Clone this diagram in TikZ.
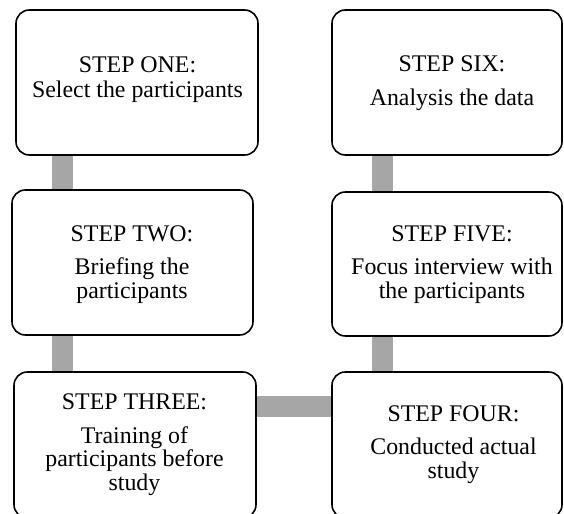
\documentclass[tikz,border=0pt]{standalone}
\usepackage{fontspec}
\setmainfont{Liberation Serif}
\usetikzlibrary{fit,backgrounds}
\definecolor{conngray}{HTML}{A6A6A6}
\tikzset{
  stepbox/.style={draw=black, line width=1.2pt, rounded corners=10pt, fill=white, inner sep=0pt},
  steptext/.style={anchor=base, align=center, inner sep=0pt,
    font=\fontsize{17.9pt}{17.6pt}\selectfont},
  conn/.style={draw=conngray, line width=15.75pt}
}
\begin{document}
\begin{tikzpicture}[x=0.75pt,y=-0.75pt]
\useasboundingbox (0,0) rectangle (564,514);
% boxes
\node[stepbox, fit={(16,10) (258,155)}] (b1) {};
\node[stepbox, fit={(12,190) (253,335)}] (b2) {};
\node[stepbox, fit={(14,372) (256,518)}] (b3) {};
\node[stepbox, fit={(332,372) (562,518)}] (b4) {};
\node[stepbox, fit={(332,192) (562,336)}] (b5) {};
\node[stepbox, fit={(332,10) (562,155)}] (b6) {};
% texts (anchored at the baseline of the last line)
\node[steptext] (t1) at (137.5,97) {STEP ONE:\\[1.1pt]Select the participants};
\node[steptext] (t2) at (132,298) {STEP TWO:\\[7.5pt]Briefing the\\participants};
\node[steptext] (t3) at (134.5,490) {STEP THREE:\\[7.5pt]Training of\\participants before\\study};
\node[steptext] (t4) at (453.5,478) {STEP FOUR:\\[7.5pt]Conducted actual\\study};
\node[steptext] (t5) at (452,298) {STEP FIVE:\\[7.5pt]Focus interview with\\the participants};
\node[steptext] (t6) at (452,105) {STEP SIX:\\[7.5pt]Analysis the data};
% connectors
\begin{scope}[on background layer]
\draw[conn] (62,0 |- b1.south) -- (62,0 |- b2.north);
\draw[conn] (62,0 |- b2.south) -- (62,0 |- b3.north);
\draw[conn] (b3.east |- 0,406.5) -- (b4.west |- 0,406.5);
\draw[conn] (382,0 |- b4.north) -- (382,0 |- b5.south);
\draw[conn] (382,0 |- b5.north) -- (382,0 |- b6.south);
\end{scope}
\end{tikzpicture}
\end{document}
